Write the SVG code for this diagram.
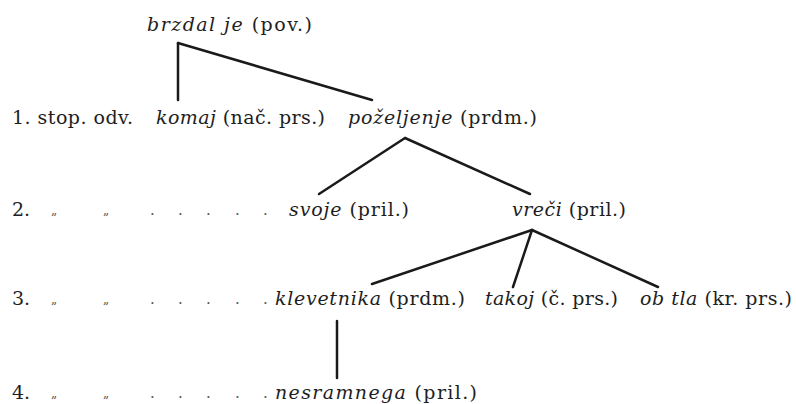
<svg xmlns="http://www.w3.org/2000/svg" width="796" height="404" viewBox="0 0 796 404">
<style>
text{font-family:"DejaVu Serif","Liberation Serif",serif;font-size:19px;fill:#1e1e1e}
.i{font-style:italic}
.m{font-size:12px;fill:#555}
.d{font-size:15px;fill:#555}
.e{stroke:#1a1a1a;stroke-width:2.5;fill:none;stroke-linecap:round}
</style>
<rect width="796" height="404" fill="#fff"/>
<g id="connectors">
<line class="e" x1="178" y1="43" x2="178" y2="100"/>
<line class="e" x1="178" y1="43" x2="372" y2="100"/>
<line class="e" x1="405" y1="138" x2="319" y2="194"/>
<line class="e" x1="405" y1="138" x2="530" y2="194"/>
<line class="e" x1="532" y1="230" x2="372" y2="284"/>
<line class="e" x1="532" y1="230" x2="513" y2="287"/>
<line class="e" x1="532" y1="230" x2="658" y2="287"/>
<line class="e" x1="337" y1="321" x2="337" y2="378"/>
</g>
<g id="labels">
<text x="12" y="124" textLength="121" lengthAdjust="spacing">1. stop. odv.</text>
<g id="row2"><text x="12" y="216">2.</text><text class="m" x="51" y="214">„</text><text class="m" x="103" y="214">„</text><text class="d" x="150" y="215">.</text><text class="d" x="178" y="215">.</text><text class="d" x="206" y="215">.</text><text class="d" x="235" y="215">.</text><text class="d" x="263" y="215">.</text></g>
<g id="row3"><text x="12" y="305">3.</text><text class="m" x="51" y="303">„</text><text class="m" x="103" y="303">„</text><text class="d" x="150" y="304">.</text><text class="d" x="178" y="304">.</text><text class="d" x="206" y="304">.</text><text class="d" x="235" y="304">.</text><text class="d" x="263" y="304">.</text></g>
<g id="row4"><text x="12" y="399">4.</text><text class="m" x="51" y="397">„</text><text class="m" x="103" y="397">„</text><text class="d" x="150" y="398">.</text><text class="d" x="178" y="398">.</text><text class="d" x="206" y="398">.</text><text class="d" x="235" y="398">.</text><text class="d" x="263" y="398">.</text></g>
</g>
<g id="n-brzdal"><text x="147" y="31" textLength="165" lengthAdjust="spacing"><tspan class="i">brzdal  je</tspan> (pov.)</text></g>
<g id="n-komaj"><text x="156" y="124" textLength="169" lengthAdjust="spacing"><tspan class="i">komaj</tspan> (nač. prs.)</text></g>
<g id="n-pozeljenje"><text x="348" y="124" textLength="189" lengthAdjust="spacing"><tspan class="i">poželjenje</tspan> (prdm.)</text></g>
<g id="n-svoje"><text x="289" y="216" textLength="120" lengthAdjust="spacing"><tspan class="i">svoje</tspan> (pril.)</text></g>
<g id="n-vreci"><text x="512" y="216" textLength="114" lengthAdjust="spacing"><tspan class="i">vreči</tspan> (pril.)</text></g>
<g id="n-klevetnika"><text x="275" y="305" textLength="190" lengthAdjust="spacing"><tspan class="i">klevetnika</tspan> (prdm.)</text></g>
<g id="n-takoj"><text x="485" y="305" textLength="133" lengthAdjust="spacing"><tspan class="i">takoj</tspan> (č. prs.)</text></g>
<g id="n-obtla"><text x="640" y="305" textLength="152" lengthAdjust="spacing"><tspan class="i">ob tla</tspan> (kr. prs.)</text></g>
<g id="n-nesramnega"><text x="275" y="399" textLength="202" lengthAdjust="spacing"><tspan class="i">nesramnega</tspan> (pril.)</text></g>
</svg>
